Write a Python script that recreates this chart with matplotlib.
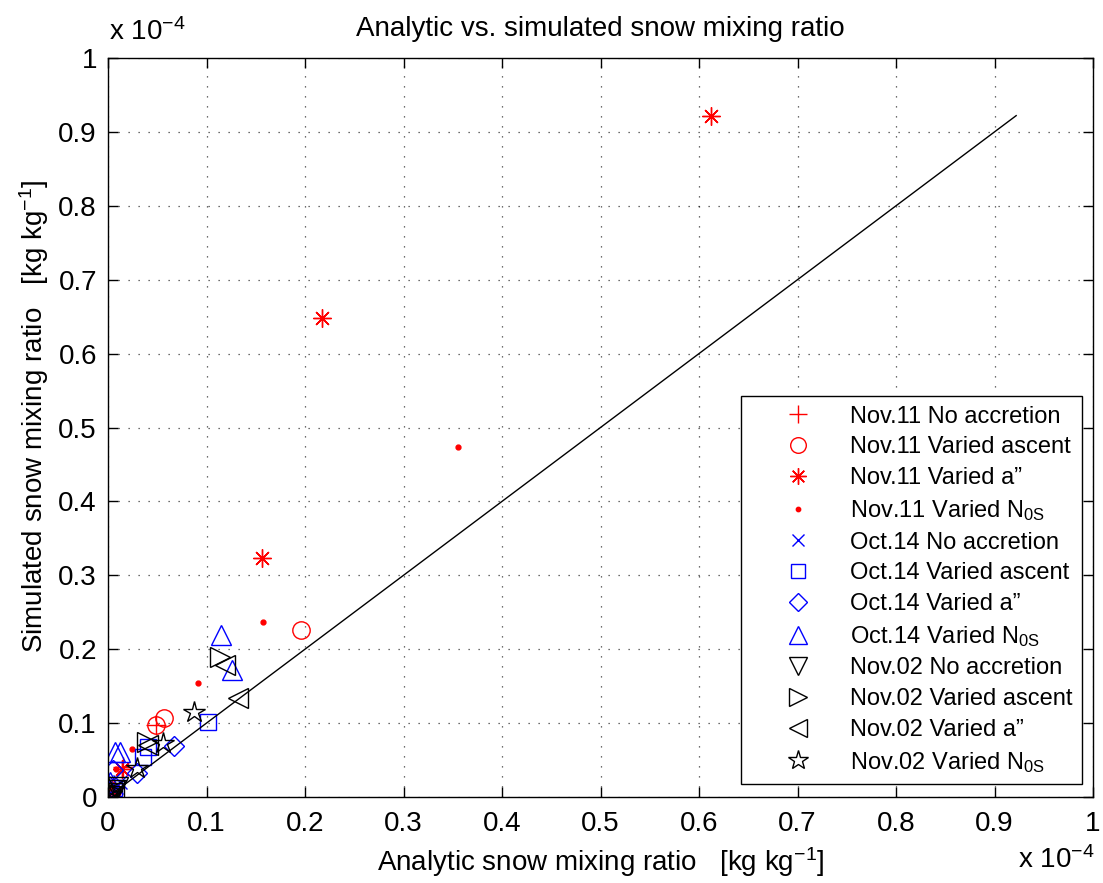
import matplotlib
matplotlib.use("Agg")
import matplotlib.pyplot as plt
import numpy as np

plt.rcParams['font.family'] = ['Liberation Sans', 'DejaVu Sans']
plt.rcParams['mathtext.fontset'] = 'custom'
plt.rcParams['mathtext.rm'] = 'Liberation Sans'
plt.rcParams['mathtext.it'] = 'Liberation Sans'

# Data in units of 1e-4 kg/kg
nov11_noacc_x = [0.002, 0.006, 0.015, 0.049]
nov11_noacc_y = [0.004, 0.012, 0.041, 0.097]
nov11_asc_x = [0.196, 0.057, 0.049, 0.004]
nov11_asc_y = [0.226, 0.107, 0.097, 0.008]
nov11_a_x = [0.612, 0.217, 0.156, 0.014, 0.004]
nov11_a_y = [0.922, 0.648, 0.323, 0.038, 0.010]
nov11_n_x = [0.355, 0.157, 0.091, 0.024, 0.008, 0.003]
nov11_n_y = [0.474, 0.237, 0.154, 0.065, 0.038, 0.012]

oct14_noacc_x = [0.003, 0.008, 0.012]
oct14_noacc_y = [0.006, 0.014, 0.020]
oct14_asc_x = [0.102, 0.041, 0.036, 0.006]
oct14_asc_y = [0.101, 0.068, 0.054, 0.012]
oct14_a_x = [0.067, 0.029, 0.005, 0.002]
oct14_a_y = [0.069, 0.032, 0.037, 0.008]
oct14_n_x = [0.115, 0.126, 0.007, 0.012, 0.002]
oct14_n_y = [0.219, 0.172, 0.061, 0.061, 0.020]

nov02_noacc_x = [0.002, 0.005, 0.008, 0.010]
nov02_noacc_y = [0.002, 0.006, 0.010, 0.014]
nov02_asc_x = [0.114, 0.040, 0.004]
nov02_asc_y = [0.190, 0.074, 0.008]
nov02_a_x = [0.132, 0.119, 0.041, 0.006]
nov02_a_y = [0.134, 0.179, 0.070, 0.010]
nov02_n_x = [0.087, 0.056, 0.029, 0.003]
nov02_n_y = [0.115, 0.073, 0.039, 0.004]

labels = [
    "Nov.11 No accretion", "Nov.11 Varied ascent", "Nov.11 Varied a\u201d",
    "Nov.11 Varied N$_{\\mathrm{0S}}$",
    "Oct.14 No accretion", "Oct.14 Varied ascent", "Oct.14 Varied a\u201d",
    "Oct.14 Varied N$_{\\mathrm{0S}}$",
    "Nov.02 No accretion", "Nov.02 Varied ascent", "Nov.02 Varied a\u201d",
    "Nov.02 Varied N$_{\\mathrm{0S}}$",
]

series = [
    (nov11_noacc_x, nov11_noacc_y, 'red', '+', 14),
    (nov11_asc_x, nov11_asc_y, 'red', 'o', 12.5),
    (nov11_a_x, nov11_a_y, 'red', (8, 2, 0), 13),
    (nov11_n_x, nov11_n_y, 'red', '.', 7),
    (oct14_noacc_x, oct14_noacc_y, 'blue', 'x', 10),
    (oct14_asc_x, oct14_asc_y, 'blue', 's', 11),
    (oct14_a_x, oct14_a_y, 'blue', 'D', 10),
    (oct14_n_x, oct14_n_y, 'blue', '^', 15),
    (nov02_noacc_x, nov02_noacc_y, 'black', 'v', 15),
    (nov02_asc_x, nov02_asc_y, 'black', '>', 15),
    (nov02_a_x, nov02_a_y, 'black', '<', 15),
    (nov02_n_x, nov02_n_y, 'black', '*', 16),
]

fig = plt.figure(figsize=(11.03, 8.83), dpi=100)
ax = fig.add_axes([108/1103, 1 - 797/883, 985/1103, 739/883])

allv = []
for (x, y, c, m, s), lab in zip(series, labels):
    filled = m == '.'
    ax.plot(x, y, linestyle='none', marker=m, markersize=s,
            markeredgecolor=c, markerfacecolor=c if filled else 'none',
            markeredgewidth=1.0, label=lab)
    allv += list(x) + list(y)

mx = max(allv)
ax.plot([0, mx], [0, mx], color='black', linewidth=1.0)

ax.set_xlim(0, 1)
ax.set_ylim(0, 1)
ticks = np.arange(0, 1.01, 0.1)
ticklabels = ['0'] + ['%.1f' % t for t in ticks[1:-1]] + ['1']
ax.set_xticks(ticks)
ax.set_xticklabels(ticklabels)
ax.set_yticks(ticks)
ax.set_yticklabels(ticklabels)
ax.tick_params(direction='in', top=True, right=True, labelsize=20, length=7, width=1)
ax.tick_params(axis='x', pad=10)
ax.tick_params(axis='y', pad=8)
ax.grid(True, linestyle=(0, (1, 7)), color='black', linewidth=0.9, alpha=0.75)
for sp in ax.spines.values():
    sp.set_linewidth(1.0)

ax.set_title("Analytic vs. simulated snow mixing ratio", fontsize=20, pad=16)
ax.set_xlabel("Analytic snow mixing ratio   [kg kg$^{-1}$]", fontsize=20, labelpad=6)
ax.set_ylabel("Simulated snow mixing ratio   [kg kg$^{-1}$]", fontsize=20)
ax.yaxis.set_label_coords(-0.058, 0.515)

fig.text(109/1103, 1 - 32/883, "x 10$^{-4}$", fontsize=20, ha='left', va='center')
fig.text(1018/1103, 1 - 860/883, "x 10$^{-4}$", fontsize=20, ha='left', va='center')

leg = ax.legend(loc='lower right', bbox_to_anchor=((1082-108)/985, (797-784)/739),
                fontsize=17, frameon=True, fancybox=False, edgecolor='black',
                framealpha=1, labelspacing=0.37, handletextpad=0.2,
                borderpad=0.4, borderaxespad=0, handlelength=4.0,
                numpoints=1, markerscale=0.9)
leg.get_frame().set_linewidth(1.0)

fig.savefig("out.png", dpi=100)
